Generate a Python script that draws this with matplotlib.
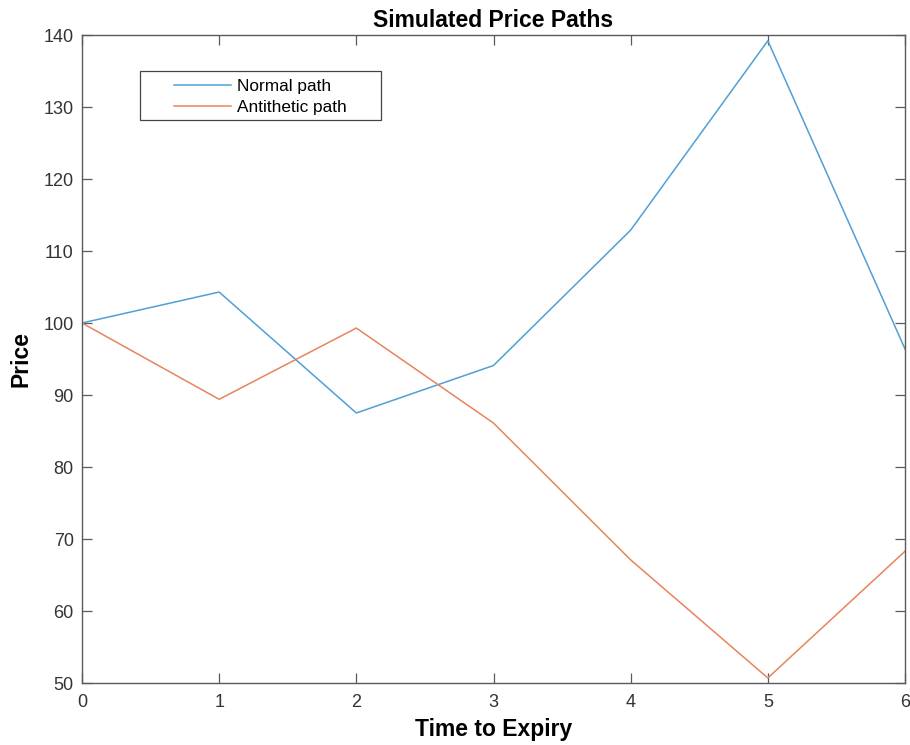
import matplotlib
matplotlib.use("Agg")
import matplotlib.pyplot as plt
from matplotlib.patches import Rectangle

plt.rcParams['font.family'] = ['Liberation Sans', 'DejaVu Sans']

time = [0, 1, 2, 3, 4, 5, 6]
normal_path = [100.0, 104.3, 87.5, 94.1, 112.9, 139.2, 96.4]
antithetic_path = [100.0, 89.4, 99.3, 86.1, 67.1, 50.7, 68.3]
labels = ["Normal path", "Antithetic path"]
yticks = [50, 60, 70, 80, 90, 100, 110, 120, 130, 140]

W, H = 910, 745
fig = plt.figure(figsize=(W/100, H/100), dpi=100)
ax = fig.add_axes([82/W, 62/H, 823/W, 648/H])

blue = '#4f9fd6'
orange = '#e8845c'
ax.plot(time, normal_path, color=blue, lw=1.1, label=labels[0])
ax.plot(time, antithetic_path, color=orange, lw=1.1, label=labels[1])

ax.set_xlim(0, 6)
ax.set_ylim(50, 140)
ax.set_xticks(time)
ax.set_yticks(yticks)

axis_color = '#5a5a5a'
for s in ax.spines.values():
    s.set_color(axis_color)
    s.set_linewidth(1.0)
ax.tick_params(direction='in', length=7, width=0.9, colors=axis_color,
               labelcolor='#333333', labelsize=13, top=True, right=True, pad=6)
ax.tick_params(axis='x', pad=8)

ax.set_title("Simulated Price Paths", fontsize=16.5, fontweight='bold', pad=6)
ax.set_xlabel("Time to Expiry", fontsize=16.5, fontweight='bold', labelpad=5)
ax.set_ylabel("Price", fontsize=16.5, fontweight='bold', labelpad=8)

# legend content (no frame), frame drawn separately like MATLAB's wide box
leg = fig.legend(loc='upper left', bbox_to_anchor=(174/W, 1 - 79/H),
                 bbox_transform=fig.transFigure,
                 fontsize=12.4, frameon=False, handlelength=3.3,
                 handletextpad=0.35, borderpad=0, labelspacing=0.36,
                 borderaxespad=0)
frame = Rectangle((140/W, 1 - 120/H), 241/W, 49/H, transform=fig.transFigure,
                  facecolor='white', edgecolor='#444444', linewidth=0.9,
                  zorder=4)
fig.patches.append(frame)
leg.set_zorder(5)

fig.savefig("out.png", dpi=100)
